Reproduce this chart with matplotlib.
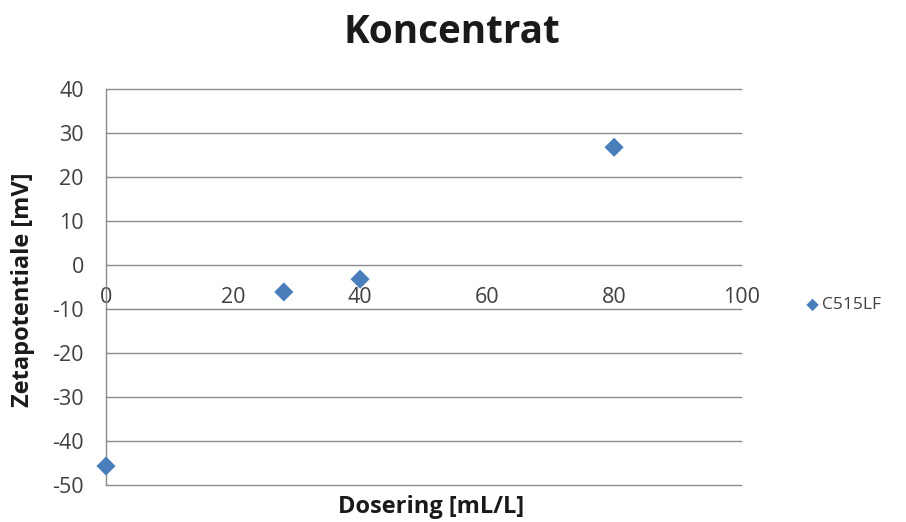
import matplotlib
matplotlib.use("Agg")
import matplotlib.pyplot as plt

# Dosage (mL/L) versus measured zeta potential (mV)
dosering = [0, 28, 40, 80]
zeta = [-45.7, -6.1, -3.2, 26.8]
series_name = "C515LF"

x_ticks = [0, 20, 40, 60, 80, 100]
y_ticks = [40, 30, 20, 10, 0, -10, -20, -30, -40, -50]

title = "Koncentrat"
x_label = "Dosering [mL/L]"
y_label = "Zetapotentiale [mV]"

plt.rcParams['font.family'] = ['Open Sans', 'DejaVu Sans']
plt.rcParams['axes.unicode_minus'] = False

fig = plt.figure(figsize=(9.06, 5.22), dpi=100)
ax = fig.add_axes([0.117, 0.071, 0.701, 0.758])

grid_color = "#8c8c8c"
text_color = "#404040"
marker_color = "#4a7ebb"

ax.set_xlim(0, 100)
ax.set_ylim(-50, 40)
ax.set_yticks(y_ticks)
ax.set_xticks(x_ticks)

for y in y_ticks:
    ax.axhline(y, color=grid_color, linewidth=1.0, zorder=1, clip_on=False)

for side in ["right", "bottom"]:
    ax.spines[side].set_visible(False)
ax.spines["left"].set_color(grid_color)
ax.spines["left"].set_linewidth(1.0)

# Horizontal axis crosses at -10, its labels sit just above that line
ax.spines["top"].set_position(("data", -10))
ax.spines["top"].set_color(grid_color)
ax.xaxis.set_ticks_position("top")
ax.tick_params(axis="x", length=0, pad=1, labelsize=15.5, labelcolor=text_color)
ax.tick_params(axis="y", length=0, pad=16, labelsize=15.5, labelcolor=text_color)

ax.scatter(dosering, zeta, marker="D", s=95, color=marker_color,
           edgecolors="none", zorder=3, clip_on=False, label=series_name)

fig.text(0.499, 0.938, title, ha="center", va="center",
         fontsize=27.8, fontweight="bold", color="#1a1a1a")
fig.text(0.476, 0.029, x_label, ha="center", va="center",
         fontsize=17, fontweight="bold", color="#1a1a1a")
fig.text(0.025, 0.445, y_label, ha="center", va="center", rotation=90,
         fontsize=17, fontweight="bold", color="#1a1a1a")

leg = fig.legend(loc="center left", bbox_to_anchor=(0.871, 0.415),
                 frameon=False, fontsize=12.5, handletextpad=0.1,
                 handlelength=0.9, markerscale=0.65)
for t in leg.get_texts():
    t.set_color(text_color)

fig.savefig("out.png", dpi=100, facecolor="white")
